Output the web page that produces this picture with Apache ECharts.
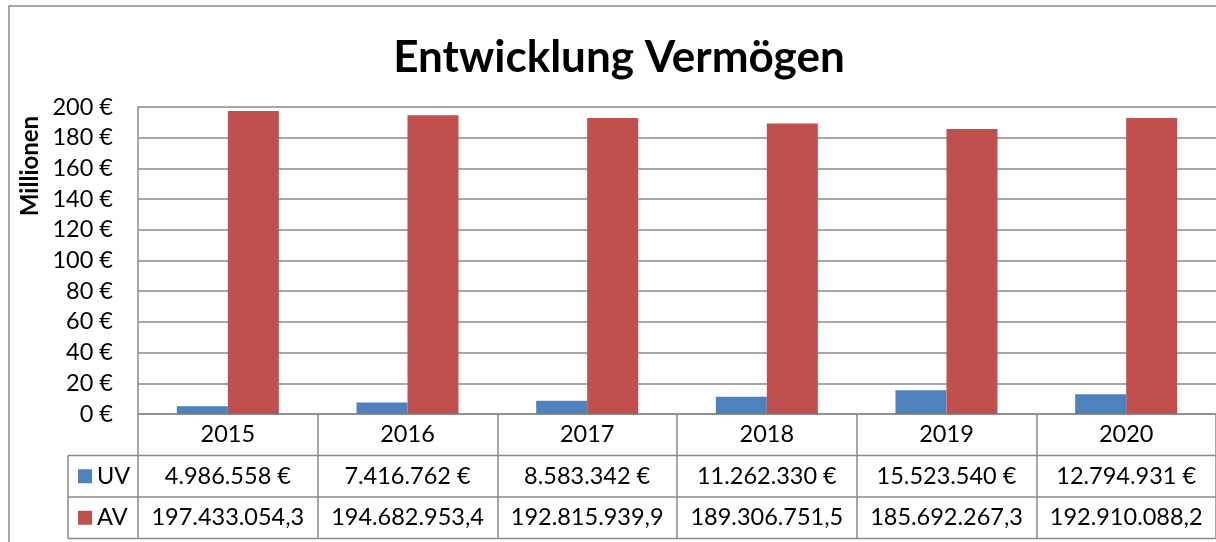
<!DOCTYPE html>
<html>
<head>
<meta charset="utf-8">
<script src="https://cdn.jsdelivr.net/npm/echarts@6/dist/echarts.min.js"></script>
<style>
    html, body { margin: 0; padding: 0; background: #fff; }
    #chart { width: 1216px; height: 542px; }
</style>
</head>
<body>
<div id="chart"></div>
<script>
var years = ['2015', '2016', '2017', '2018', '2019', '2020'];
var uvValues = [4986558, 7416762, 8583342, 11262330, 15523540, 12794931];
var avValues = [197433054.3, 194682953.4, 192815939.9, 189306751.5, 185692267.3, 192910088.2];
var yTicks = [0, 20, 40, 60, 80, 100, 120, 140, 160, 180, 200];

var FONT = 'Lato';
var LINE = '#8a8a8a';

// deutsches Zahlenformat
function fmtDe(v, dec) {
    var parts = v.toFixed(dec).split('.');
    var s = parts[0].replace(/\B(?=(\d{3})+(?!\d))/g, '.');
    return dec ? s + ',' + parts[1] : s;
}

var grid = { left: 138, top: 107, width: 1083, height: 307 };
var rowH = 41.5;

var myChart = echarts.init(document.getElementById('chart'));

var option = {
    animation: false,
    textStyle: { fontFamily: FONT },
    title: {
        text: 'Entwicklung Vermögen',
        left: 614,
        top: 31,
        textAlign: 'center',
        textStyle: { fontSize: 44, fontWeight: 'bold', color: '#000', fontFamily: FONT }
    },
    grid: grid,
    xAxis: {
        type: 'category',
        data: years,
        axisLine: { lineStyle: { color: LINE, width: 1.5 } },
        axisTick: { show: true, interval: 0, length: rowH * 3, lineStyle: { color: LINE, width: 1.5 } },
        axisLabel: {
            interval: 0,
            hideOverlap: false,
            margin: 0,
            verticalAlign: 'top',
            color: '#000',
            fontSize: 23.5,
            lineHeight: rowH,
            fontFamily: FONT,
            formatter: function (value, idx) {
                return value + '\n' + fmtDe(uvValues[idx], 0) + ' €\n' + fmtDe(avValues[idx], 1);
            }
        }
    },
    yAxis: {
        type: 'value',
        min: yTicks[0],
        max: yTicks[yTicks.length - 1],
        interval: yTicks[1] - yTicks[0],
        axisLine: { show: true, lineStyle: { color: LINE, width: 1.5 } },
        axisTick: { show: false },
        splitLine: { lineStyle: { color: LINE, width: 1.5 } },
        axisLabel: { margin: 25, color: '#000', fontSize: 23.5, fontFamily: FONT, formatter: '{value} €' }
    },
    series: [
        {
            name: 'UV',
            type: 'bar',
            barWidth: 51,
            barGap: '0%',
            itemStyle: { color: '#4F81BD' },
            data: uvValues.map(function (v) { return v / 1e6; })
        },
        {
            name: 'AV',
            type: 'bar',
            barWidth: 51,
            barGap: '0%',
            itemStyle: { color: '#C0504D' },
            data: avValues.map(function (v) { return v / 1e6; })
        }
    ]
};

myChart.setOption(option);

// Rahmen, Tabellenlinien, Legende
var x0 = grid.left, y0 = grid.top + grid.height;
var xr = grid.left + grid.width;
var keyX = 68;
var g = [
    { type: 'rect', shape: { x: 9, y: 6, width: 1240, height: 560 }, style: { fill: 'none', stroke: LINE, lineWidth: 1.5 }, silent: true },
    { type: 'line', shape: { x1: keyX, y1: y0 + rowH, x2: xr, y2: y0 + rowH }, style: { stroke: LINE, lineWidth: 1.5 } },
    { type: 'line', shape: { x1: keyX, y1: y0 + rowH * 2, x2: xr, y2: y0 + rowH * 2 }, style: { stroke: LINE, lineWidth: 1.5 } },
    { type: 'line', shape: { x1: keyX, y1: y0 + rowH * 3, x2: xr, y2: y0 + rowH * 3 }, style: { stroke: LINE, lineWidth: 1.5 } },
    { type: 'line', shape: { x1: keyX, y1: y0 + rowH, x2: keyX, y2: y0 + rowH * 3 }, style: { stroke: LINE, lineWidth: 1.5 } },
    {
        type: 'text', x: 30, y: 166, rotation: Math.PI / 2,
        style: { text: 'Millionen', fontSize: 24, fontWeight: 'bold', fontFamily: FONT, fill: '#000', align: 'center', verticalAlign: 'middle' }
    }
];
option.series.forEach(function (s, i) {
    var cy = y0 + rowH * (i + 1.5);
    g.push({ type: 'rect', shape: { x: 78, y: cy - 7, width: 14, height: 14 }, style: { fill: s.itemStyle.color } });
    g.push({
        type: 'text', x: 97, y: cy,
        style: { text: s.name, fontSize: 23.5, fontFamily: FONT, fill: '#000', verticalAlign: 'middle' }
    });
});
myChart.setOption({ graphic: g });
</script>
</body>
</html>
